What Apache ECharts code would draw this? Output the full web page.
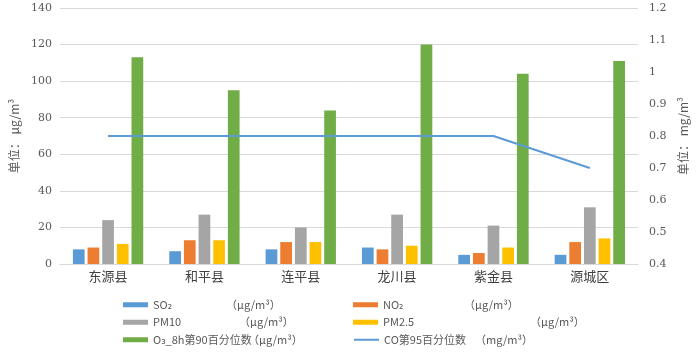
<!DOCTYPE html>
<html>
<head>
<meta charset="utf-8">
<script src="https://cdn.jsdelivr.net/npm/echarts@6/dist/echarts.min.js"></script>
<style>
  html, body { margin: 0; padding: 0; background: #fff; }
  #chart { width: 699px; height: 353px; }
</style>
</head>
<body>
<div id="chart"></div>
<script>
// counties
var counties = ['东源县', '和平县', '连平县', '龙川县', '紫金县', '源城区'];

// pollutant values (μg/m³), CO in mg/m³
var so2  = [8, 7, 8, 9, 5, 5];
var no2  = [9, 13, 12, 8, 6, 12];
var pm10 = [24, 27, 20, 27, 21, 31];
var pm25 = [11, 13, 12, 10, 9, 14];
var o3   = [113, 95, 84, 120, 104, 111];
var co   = [0.8, 0.8, 0.8, 0.8, 0.8, 0.7];

var names = ['SO₂', 'NO₂', 'PM10', 'PM2.5', 'O₃_8h第90百分位数', 'CO第95百分位数'];
var units = ['（μg/m³）', '（μg/m³）', '（μg/m³）', '（μg/m³）', '（μg/m³）', '（mg/m³）'];

var colors = ['#5b9bd5', '#ed7d31', '#a5a5a5', '#ffc000', '#70ad47'];
var labelFont = '"Noto Sans CJK SC", "DejaVu Sans", sans-serif';

var myChart = echarts.init(document.getElementById('chart'));

function bar(i, data) {
  return {
    name: names[i],
    type: 'bar',
    data: data,
    barGap: '25%',
    barCategoryGap: '27%',
    itemStyle: { color: colors[i] }
  };
}

// width of the name part so units line up like the original
var nameW = [73, 81, 86, 147, 95, 91];
var rich = {};
names.forEach(function (n, i) {
  rich['n' + i] = { width: nameW[i], fontSize: 11, lineHeight: 17.5, color: '#595959', fontFamily: labelFont };
});
rich.u = { fontSize: 11, lineHeight: 17.5, color: '#595959', fontFamily: labelFont };

var option = {
  animation: false,
  grid: { left: 55, right: 61, top: 8, bottom: 89 },
  legend: {
    left: 123,
    top: 296,
    padding: 0,
    width: 470,
    itemWidth: 25,
    itemHeight: 5,
    itemGap: 0,
    data: [
      { name: names[0], icon: 'rect' },
      { name: names[1], icon: 'rect' },
      { name: names[2], icon: 'rect' },
      { name: names[3], icon: 'rect' },
      { name: names[4], icon: 'rect' },
      { name: names[5], itemStyle: { opacity: 0 } }
    ],
    formatter: function (n) {
      var i = names.indexOf(n);
      return '{n' + i + '|' + n + '}{u|' + units[i] + '}';
    },
    textStyle: { width: 200, height: 17.5, lineHeight: 17.5, rich: rich, padding: [0, 0, 0, 0] }
  },
  xAxis: {
    type: 'category',
    data: counties,
    axisTick: { show: false },
    axisLine: { lineStyle: { color: '#d9d9d9' } },
    axisLabel: { color: '#404040', fontSize: 13, fontFamily: labelFont, margin: 6 }
  },
  yAxis: [
    {
      type: 'value',
      min: 0, max: 140, interval: 20,
      name: '单位： μg/m³',
      nameLocation: 'middle',
      nameGap: 29,
      nameTextStyle: { color: '#595959', fontSize: 12, fontFamily: labelFont },
      axisLabel: { color: '#595959', fontSize: 11, fontFamily: '"DejaVu Serif", serif', margin: 8 },
      splitLine: { lineStyle: { color: '#d9d9d9' } },
      axisLine: { show: false },
      axisTick: { show: false }
    },
    {
      type: 'value',
      min: 0.4, max: 1.2, interval: 0.1,
      name: '单位： mg/m³',
      nameLocation: 'middle',
      nameGap: 37,
      nameTextStyle: { color: '#595959', fontSize: 12, fontFamily: labelFont },
      axisLabel: {
        color: '#595959', fontSize: 11, fontFamily: '"DejaVu Serif", serif', margin: 11,
        formatter: function (v) { return String(+v.toFixed(1)); }
      },
      splitLine: { show: false },
      axisLine: { show: false },
      axisTick: { show: false }
    }
  ],
  series: [
    bar(0, so2),
    bar(1, no2),
    bar(2, pm10),
    bar(3, pm25),
    bar(4, o3),
    {
      name: names[5],
      type: 'line',
      yAxisIndex: 1,
      data: co,
      symbol: 'none',
      lineStyle: { color: '#5b9bd5', width: 2 },
      itemStyle: { color: '#5b9bd5' }
    }
  ]
};

myChart.setOption(option);
</script>
</body>
</html>
